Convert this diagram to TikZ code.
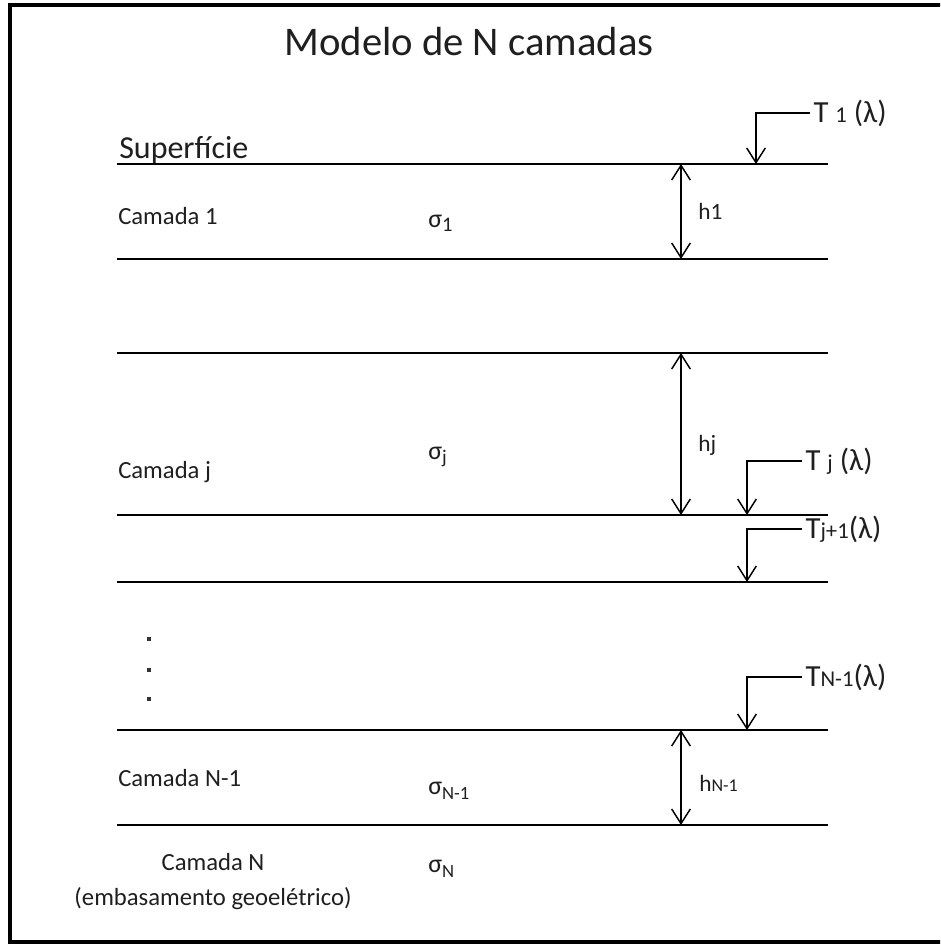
\documentclass[tikz,border=0pt]{standalone}
\usepackage{fontspec}
\setmainfont{Carlito}
\usetikzlibrary{arrows.meta}
\tikzset{
  layer/.style={line width=1.9pt},
  barb/.tip={Straight Barb[length=11pt,width=14pt,line width=1.1pt]},
  dimline/.style={line width=1.1pt,{barb}-{barb}},
  tline/.style={line width=1.1pt,-{barb}},
  lbl/.style={inner sep=0pt,text=black!88},
  frame/.style={line width=2.8pt}
}
\newcommand{\fs}[1]{\fontsize{#1}{#1}\selectfont}
\begin{document}
\begin{tikzpicture}[x=0.75pt,y=-0.75pt]
\useasboundingbox (0,0) rectangle (940,945);
\clip (0,0) rectangle (940,945);
% frame (right side cut off)
\coordinate (fa) at (960,5);
\coordinate (fb) at (10,5);
\coordinate (fc) at (10,942);
\coordinate (fd) at (960,942);
\draw[frame] (fa) -- (fb) -- (fc) -- (fd);
% title
\node[lbl] (title) at (469,42) {\fs{30.5pt}Modelo de N camadas};
% layer lines
\foreach \n/\y in {1/164,2/259,3/353,4/515,5/582,6/730,7/825}{
  \coordinate (La\n) at (117,\y);
  \coordinate (Lb\n) at (828,\y);
  \coordinate (D\n) at (681,\y);
  \draw[layer] (La\n) -- (Lb\n);
}
% labels left
\node[lbl,anchor=base west] (sup) at (119,158) {\fs{24pt}Superfície};
\node[lbl,anchor=base west] (c1) at (118,224) {\fs{18.5pt}Camada 1};
\node[lbl,anchor=base west] (cj) at (118,478) {\fs{18.5pt}Camada j};
\node[lbl,anchor=base west] (cn1) at (118,786) {\fs{18.5pt}Camada N-1};
\node[lbl,anchor=base] (cn) at (213,870) {\fs{18.5pt}Camada N};
\node[lbl,anchor=base] (emb) at (213,905) {\fs{18.5pt}(embasamento geoelétrico)};
% dots
\foreach \k/\y in {1/639,2/670,3/699}{
  \node[fill=black!80,minimum size=2.4pt,inner sep=0pt] (dot\k) at (149,\y) {};
}
% sigma labels
\node[lbl,anchor=base west] (s1) at (428,227) {\fs{19.5pt}σ\raisebox{-3pt}{\fs{15.5pt}1}};
\node[lbl,anchor=base west] (sj) at (428,459) {\fs{19.5pt}σ\raisebox{-3pt}{\fs{14.5pt}j}};
\node[lbl,anchor=base west] (sn1) at (428,794) {\fs{19.5pt}σ\raisebox{-4pt}{\fs{14pt}N-1}};
\node[lbl,anchor=base west] (sn) at (428,872) {\fs{19.5pt}σ\raisebox{-4pt}{\fs{14pt}N}};
% dimension arrows
\draw[dimline] (D1) -- (D2);
\draw[dimline] (D3) -- (D4);
\draw[dimline] (D6) -- (D7);
\node[lbl,anchor=base west] (h1) at (698,219) {\fs{17.5pt}h1};
\node[lbl,anchor=base west] (hj) at (698,451) {\fs{17.5pt}hj};
\node[lbl,anchor=base west] (hn1) at (699,791) {\fs{17.5pt}h{\fs{13.5pt}N-1}};
% T arrows
\coordinate (t1s) at (810,113); \coordinate (t1e) at (756,164);
\coordinate (tjs) at (802,461); \coordinate (tje) at (747,515);
\coordinate (tj1s) at (802,529); \coordinate (tj1e) at (747,582);
\coordinate (tns) at (802,677); \coordinate (tne) at (747,730);
\draw[tline] (t1s) -| (t1e);
\draw[tline] (tjs) -| (tje);
\draw[tline] (tj1s) -| (tj1e);
\draw[tline] (tns) -| (tne);
\node[lbl,anchor=west] (T1) at ([xshift=2.5pt]t1s) {\fs{23pt}T {\fs{17pt}1} (λ)};
\node[lbl,anchor=west] (Tj) at ([xshift=2.5pt]tjs) {\fs{23pt}T {\fs{17pt}j} (λ)};
\node[lbl,anchor=west] (Tj1) at ([xshift=2.5pt]tj1s) {\fs{23pt}T{\fs{17pt}j+1}(λ)};
\node[lbl,anchor=west] (Tn) at ([xshift=2.5pt]tns) {\fs{23pt}T{\fs{17pt}N-1}(λ)};
\end{tikzpicture}
\end{document}
